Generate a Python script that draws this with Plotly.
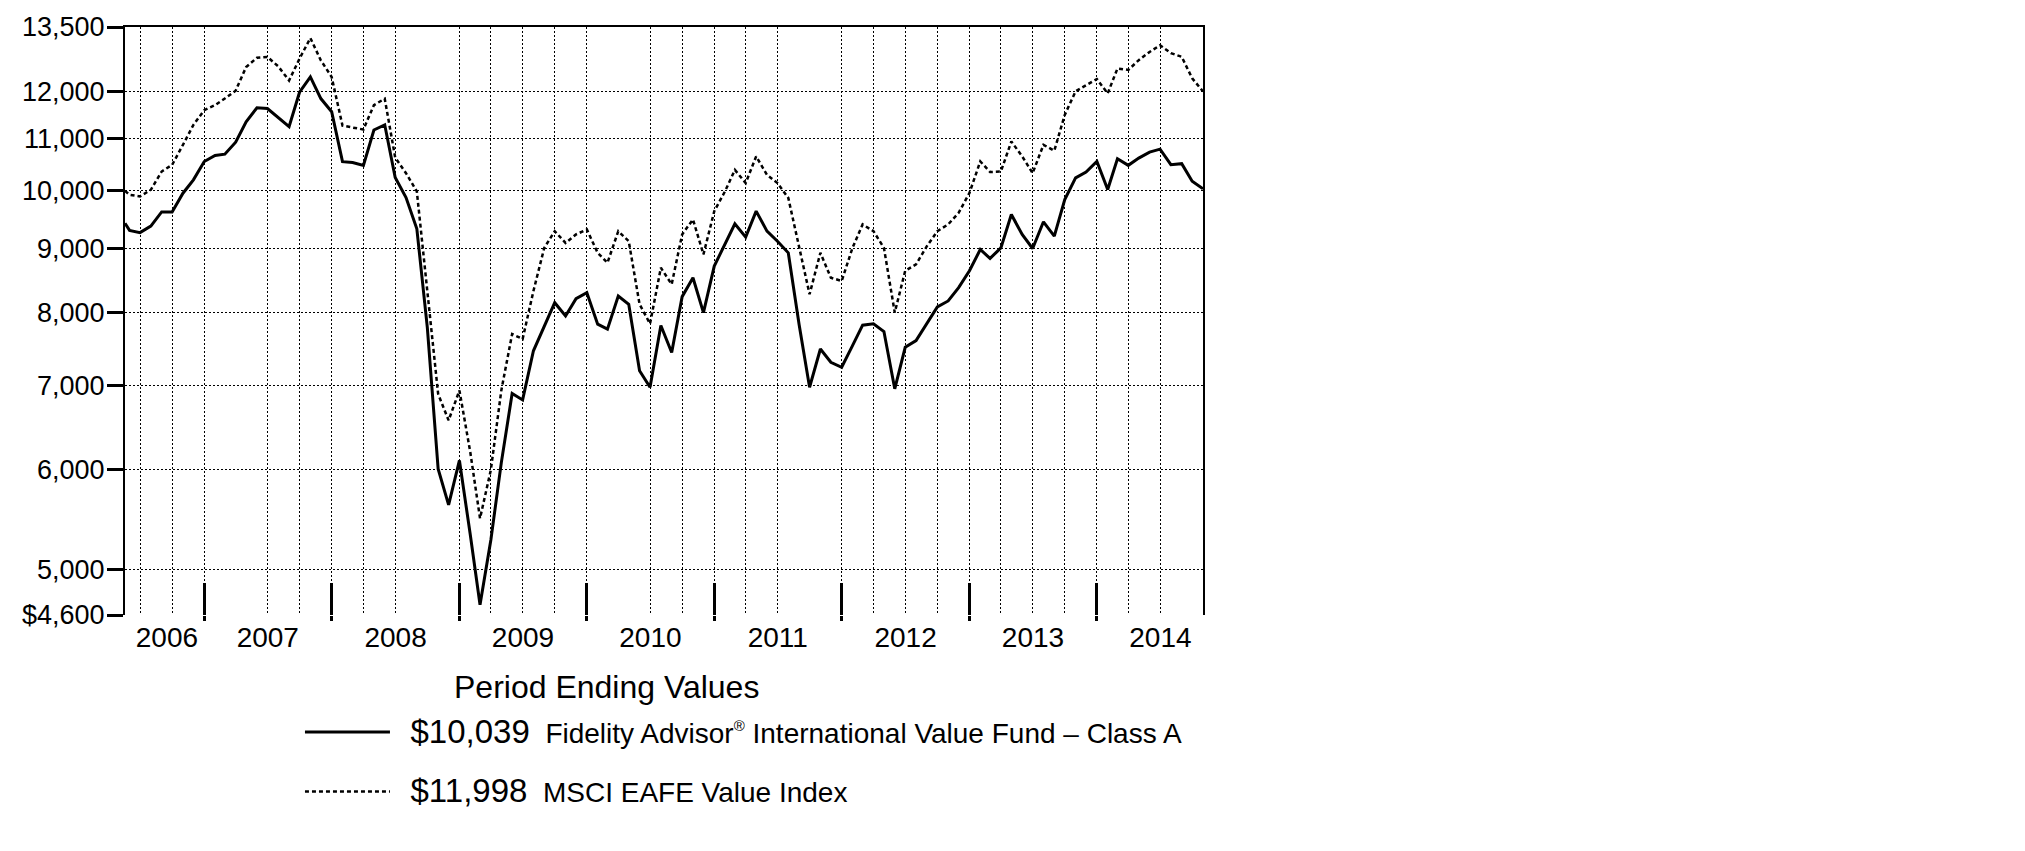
import math
import pandas as pd
import plotly.graph_objects as go

# ----------------------------------------------------
# Data: growth of a hypothetical $10,000 investment
# ----------------------------------------------------
start_date = "2006-05-18"
month_ends = pd.date_range("2006-05-31", periods=102, freq=pd.offsets.MonthEnd())
dates = [start_date] + [d.strftime("%Y-%m-%d") for d in month_ends]

fund_values = [
    9425,
    9302, 9264, 9376, 9623, 9620, 9958, 10204, 10552,
    10669, 10695, 10932, 11350, 11645, 11628, 11437, 11250, 11980, 12320, 11842, 11560,
    10550, 10535, 10476, 11180, 11286, 10250, 9880, 9330, 7790, 6010, 5628, 6105,
    5330, 4687, 5278, 6080, 6900, 6820, 7462, 7800, 8149, 7954, 8209, 8300,
    7835, 7764, 8250, 8126, 7195, 6980, 7815, 7439, 8240, 8530, 8003, 8714,
    9065, 9416, 9188, 9636, 9289, 9120, 8928, 7830, 6980, 7487, 7307, 7240,
    7533, 7820, 7840, 7730, 6960, 7510, 7602, 7850, 8087, 8175, 8377, 8639,
    8983, 8837, 9010, 9578, 9234, 8999, 9450, 9206, 9843, 10240, 10352, 10556,
    10025, 10607, 10479, 10619, 10736, 10795, 10493, 10511, 10179, 10039,
]

index_values = [
    10000,
    9930, 9900, 10020, 10361, 10488, 10880, 11285, 11593,
    11700, 11842, 12015, 12547, 12760, 12780, 12560, 12240, 12740, 13230, 12700, 12320,
    11270, 11230, 11190, 11700, 11840, 10630, 10330, 9990, 8325, 6895, 6569, 6939,
    6200, 5490, 6000, 6940, 7695, 7624, 8325, 9010, 9289, 9091, 9234, 9318,
    8928, 8767, 9289, 9120, 8126, 7840, 8687, 8428, 9234, 9491, 8902, 9636,
    9995, 10392, 10144, 10653, 10298, 10144, 9873, 9010, 8276, 8928, 8530, 8480,
    9010, 9405, 9289, 9010, 8003, 8639, 8741, 9038, 9289, 9405, 9606, 9963,
    10556, 10352, 10361, 10947, 10653, 10330, 10881, 10762, 11494, 12000, 12138, 12273,
    11955, 12512, 12480, 12705, 12898, 13057, 12870, 12782, 12290, 11998,
]

fund_end = "$10,039"
index_end = "$11,998"
fund_label = ('Fidelity Advisor<sup><span style="font-size:15px">®</span></sup>'
              ' International Value Fund – Class A')
index_label = "MSCI EAFE Value Index"

year_labels = ["2006", "2007", "2008", "2009", "2010", "2011", "2012", "2013", "2014"]
year_label_dates = ["2006-09-15", "2007-07-01", "2008-07-01", "2009-07-01", "2010-07-01",
                    "2011-07-01", "2012-07-01", "2013-07-01", "2014-07-01"]
year_end_dates = ["2006-12-31", "2007-12-31", "2008-12-31", "2009-12-31",
                  "2010-12-31", "2011-12-31", "2012-12-31", "2013-12-31"]
grid_dates = [
    "2006-06-30", "2006-09-30", "2006-12-31",
    "2007-06-30", "2007-09-30", "2007-12-31",
    "2008-03-31", "2008-06-30", "2008-12-31",
    "2009-03-31", "2009-06-30", "2009-09-30", "2009-12-31",
    "2010-06-30", "2010-09-30", "2010-12-31",
    "2011-03-31", "2011-06-30", "2011-12-31",
    "2012-03-31", "2012-06-30", "2012-09-30", "2012-12-31",
    "2013-03-31", "2013-06-30", "2013-09-30", "2013-12-31",
    "2014-03-31", "2014-06-30",
]

y_ticks = [4600, 5000, 6000, 7000, 8000, 9000, 10000, 11000, 12000, 13500]
y_labels = ["$4,600", "5,000", "6,000", "7,000", "8,000", "9,000", "10,000", "11,000", "12,000", "13,500"]

FONT = "Liberation Sans, Arial, sans-serif"
NBSP = "\u00a0"
x_range = [dates[0], dates[-1]]


def overlay_axis(**kw):
    # blank date axis laid over the main one, used for border / ticks / grid only
    base = dict(
        type="date",
        range=x_range,
        overlaying="x",
        anchor="y",
        side="bottom",
        showticklabels=False,
        ticks="",
        showline=False,
        showgrid=False,
        zeroline=False,
    )
    base.update(kw)
    return base


def legend_name(value, label):
    return f'{NBSP * 2}<span style="font-size:33px">{value}</span>{NBSP * 2}{label}'


# ----------------------------------------------------
# Chart
# ----------------------------------------------------
fig = go.Figure()

# invisible copies so the overlay axes get drawn
for ax in ["x2", "x3", "x4", "x5"]:
    fig.add_trace(go.Scatter(
        x=dates,
        y=fund_values,
        xaxis=ax,
        yaxis="y",
        mode="lines",
        line=dict(width=0, color="rgba(0,0,0,0)"),
        showlegend=False,
        hoverinfo="skip",
    ))

fig.add_trace(go.Scatter(
    x=dates,
    y=fund_values,
    mode="lines",
    name=legend_name(fund_end, fund_label),
    line=dict(color="black", width=3),
    legendgroup="fund",
))

fig.add_trace(go.Scatter(
    x=dates,
    y=index_values,
    mode="lines",
    name=legend_name(index_end, index_label),
    line=dict(color="black", width=2.5, dash="4px,3px"),
    legendgroup="index",
))

fig.update_layout(
    width=2025,
    height=851,
    margin=dict(l=125, r=822, t=25, b=236),
    paper_bgcolor="white",
    plot_bgcolor="white",
    font=dict(family=FONT, color="black"),
    showlegend=True,
    legend=dict(
        x=0.1623,
        y=-0.157,
        xanchor="left",
        yanchor="top",
        traceorder="grouped",
        tracegroupgap=20,
        itemwidth=85,
        font=dict(family=FONT, size=28, color="black"),
        bgcolor="rgba(0,0,0,0)",
    ),
    xaxis=dict(
        type="date",
        range=x_range,
        tickmode="array",
        tickvals=year_label_dates,
        ticktext=year_labels,
        ticks="",
        ticklabelstandoff=3,
        showgrid=False,
        showline=False,
        zeroline=False,
        tickfont=dict(family=FONT, size=28, color="black"),
    ),
    # top border
    xaxis2=overlay_axis(side="top", showline=True, linecolor="black", linewidth=2),
    # year separators: long part inside the plot
    xaxis3=overlay_axis(tickmode="array", tickvals=year_end_dates, ticks="inside",
                        ticklen=32, tickwidth=3, tickcolor="black"),
    # year separators: short part below the plot
    xaxis4=overlay_axis(tickmode="array", tickvals=year_end_dates, ticks="outside",
                        ticklen=5, tickwidth=3, tickcolor="black"),
    # quarterly vertical grid
    xaxis5=overlay_axis(tickmode="array", tickvals=grid_dates, showgrid=True,
                        gridcolor="black", gridwidth=1, griddash="2px,2px"),
    yaxis=dict(
        type="log",
        range=[math.log10(y_ticks[0]), math.log10(y_ticks[-1])],
        tickmode="array",
        tickvals=y_ticks,
        ticktext=y_labels,
        ticks="outside",
        ticklen=16,
        tickwidth=3,
        tickcolor="black",
        ticklabelstandoff=-3,
        showline=True,
        linecolor="black",
        linewidth=2,
        mirror=True,
        showgrid=True,
        gridcolor="black",
        gridwidth=1,
        griddash="2px,2px",
        zeroline=False,
        tickfont=dict(family=FONT, size=27, color="black"),
    ),
    annotations=[
        dict(
            text="Period Ending Values",
            xref="paper",
            yref="paper",
            x=0.447,
            y=-0.122,
            xanchor="center",
            yanchor="middle",
            showarrow=False,
            font=dict(family=FONT, size=32, color="black"),
        )
    ],
)

fig.write_html(
    "out.html",
    config={"displayModeBar": False},
    post_script="document.body.style.margin = '0';",
)
